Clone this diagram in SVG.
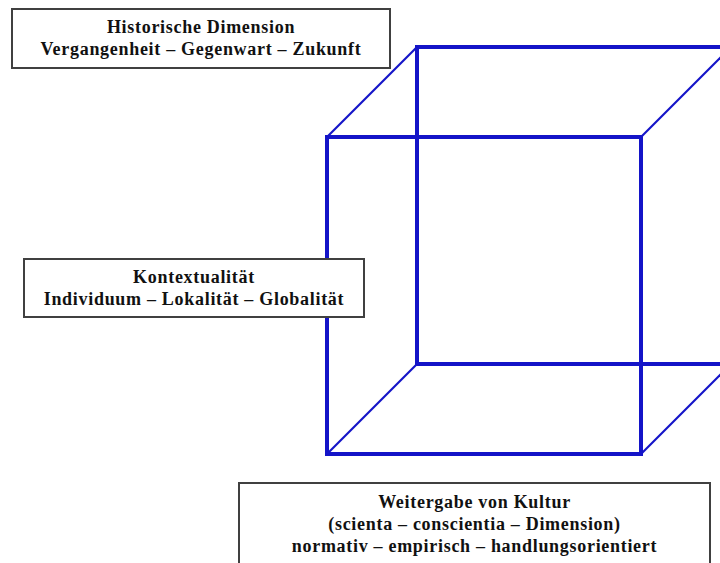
<svg xmlns="http://www.w3.org/2000/svg" width="720" height="563" viewBox="0 0 720 563">
<style>
.edge{stroke:#1414c8;stroke-width:4;fill:none;stroke-linecap:square}
.diag{stroke:#1414c8;stroke-width:2.2;fill:none}
.box{fill:#ffffff;stroke:#404040;stroke-width:2}
.t{font-family:"Liberation Serif","Times New Roman",serif;font-weight:bold;font-size:18px;fill:#111;text-anchor:middle;letter-spacing:0.7px}
</style>
<rect width="720" height="563" fill="#ffffff"/>
<g id="cube">
<rect class="edge" x="417" y="47" width="314" height="317"/>
<rect class="edge" x="327" y="137" width="314" height="317"/>
<line class="diag" x1="327" y1="137" x2="417" y2="47"/>
<line class="diag" x1="641" y1="137" x2="731" y2="47"/>
<line class="diag" x1="327" y1="454" x2="417" y2="364"/>
<line class="diag" x1="641" y1="454" x2="731" y2="364"/>
</g>
<g id="historische">
<rect class="box" x="12" y="9" width="378" height="59"/>
<text class="t" x="201" y="33">Historische Dimension</text>
<text class="t" x="201" y="55">Vergangenheit – Gegenwart – Zukunft</text>
</g>
<g id="kontext">
<rect class="box" x="24" y="259" width="340" height="58"/>
<text class="t" x="194" y="283">Kontextualität</text>
<text class="t" x="194" y="305">Individuum – Lokalität – Globalität</text>
</g>
<g id="weitergabe">
<rect class="box" x="239" y="483" width="471" height="95"/>
<text class="t" x="474.5" y="508">Weitergabe von Kultur</text>
<text class="t" x="474.5" y="530">(scienta – conscientia – Dimension)</text>
<text class="t" x="474.5" y="552">normativ – empirisch – handlungsorientiert</text>
</g>
</svg>
